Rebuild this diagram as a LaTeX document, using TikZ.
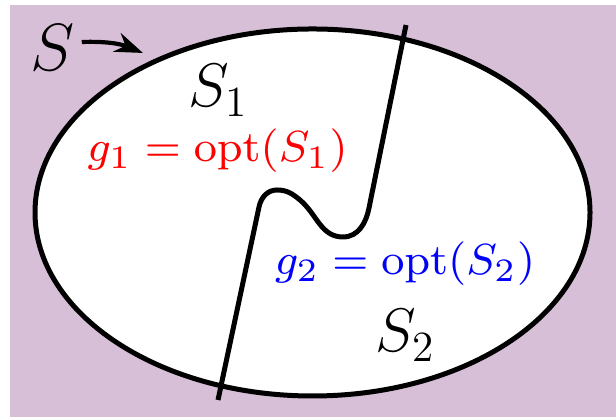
\documentclass[tikz,border=0pt]{standalone}
\usepackage{fix-cm}
\usepackage{graphicx}
\usetikzlibrary{arrows.meta}
\definecolor{setbg}{RGB}{216,191,216}
\newcommand{\optlabel}[1]{\scalebox{1.55}{\footnotesize$#1$}}

\begin{document}
\begin{tikzpicture}[
    big/.style={font=\fontsize{19}{22}\selectfont, inner sep=0pt},
    part/.style={font=\fontsize{17.5}{20}\selectfont, anchor=base, inner sep=0pt},
    optnode/.style={anchor=base, inner sep=0pt},
    border/.style={line width=0.05cm},
    pointer/.style={-{Stealth[length=0.28cm, width=0.2cm]}, line width=0.042cm}
]
\useasboundingbox (0,0) rectangle (6.16,4.17);
\fill[setbg] (0.10,0) rectangle (6.16,4.12);
\draw[border, fill=white] (3.125,2.045) ellipse [x radius=2.775cm, y radius=1.835cm];
% the cut between the two parts
\coordinate (cuttop) at (4.06,3.92);
\coordinate (cutbot) at (2.18,0.17);
\draw[border] (cuttop) -- (3.69,2.09) to[out=-101, in=0] (3.43,1.80)
    to[out=180, in=-40] (3.00,2.17) to[out=140, in=0] (2.77,2.27)
    to[out=180, in=78] (2.59,2.10) -- (cutbot);
% labels
\node[big] (S) at (0.53,3.69) {$S$};
\coordinate (Stip) at (1.43,3.64);
\draw[pointer] ([shift={(0.06,0.06)}]S.east) to[bend left=12] (Stip);
\node[part] (S1) at (2.18,3.10) {$S_1$};
\node[part] (S2) at (4.05,0.65) {$S_2$};
\node[optnode, red] (g1) at (2.175,2.55) {\optlabel{g_1 = \mathrm{opt}(S_1)}};
\node[optnode, blue] (g2) at (4.05,1.42) {\optlabel{g_2 = \mathrm{opt}(S_2)}};
\end{tikzpicture}
\end{document}
